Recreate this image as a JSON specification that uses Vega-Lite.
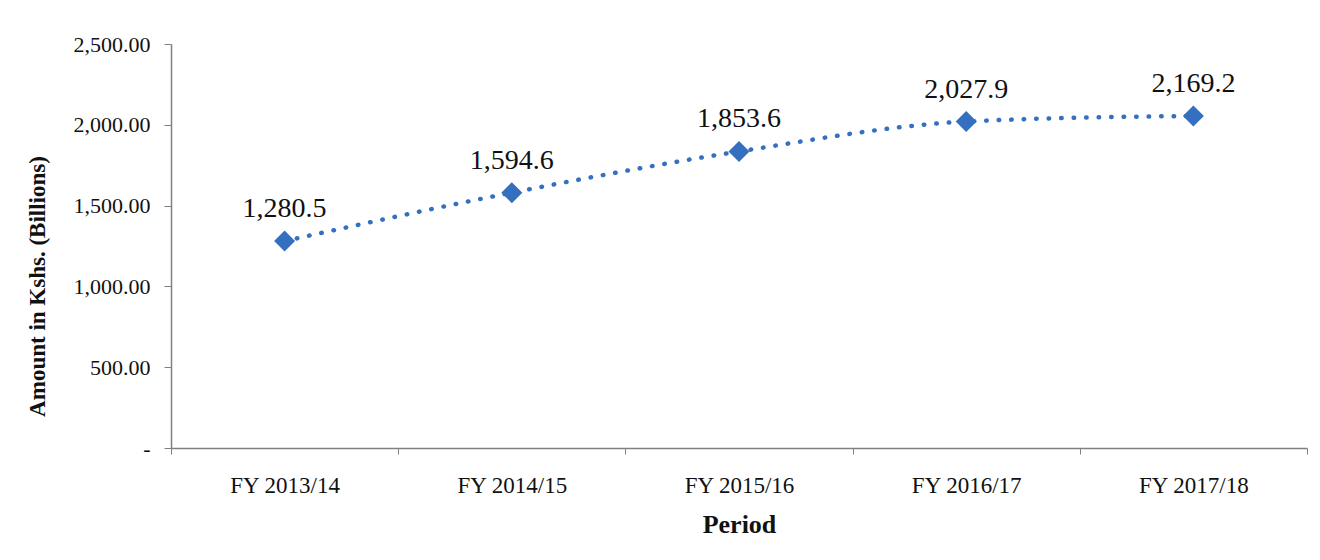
{
  "$schema": "https://vega.github.io/schema/vega-lite/v6.json",
  "width": 1136,
  "height": 404,
  "autosize": {"type": "none"},
  "padding": {"left": 171, "top": 44, "right": 13, "bottom": 112},
  "background": "white",
  "config": {
    "view": {"stroke": null},
    "font": "Liberation Serif"
  },
  "data": {
    "values": [
      {"period": "FY 2013/14", "amount": 1280.5, "label": "1,280.5"},
      {"period": "FY 2014/15", "amount": 1580, "label": "1,594.6"},
      {"period": "FY 2015/16", "amount": 1835, "label": "1,853.6"},
      {"period": "FY 2016/17", "amount": 2020, "label": "2,027.9"},
      {"period": "FY 2017/18", "amount": 2055, "label": "2,169.2"}
    ]
  },
  "encoding": {
    "x": {
      "field": "period",
      "type": "nominal",
      "sort": null,
      "title": "Period",
      "axis": {
        "labelAngle": 0,
        "labelFont": "Liberation Serif",
        "labelFontSize": 23,
        "labelColor": "#111",
        "labelPadding": 20,
        "tickBand": "extent",
        "tickSize": 6,
        "tickColor": "#808080",
        "domainColor": "#808080",
        "domainWidth": 1.5,
        "titleFont": "Liberation Serif",
        "titleFontSize": 26,
        "titleFontWeight": "bold",
        "titleColor": "#111",
        "titlePadding": 14
      }
    },
    "y": {
      "field": "amount",
      "type": "quantitative",
      "title": "Amount in Kshs. (Billions)",
      "scale": {"domain": [0, 2500], "nice": false},
      "axis": {
        "values": [0, 500, 1000, 1500, 2000, 2500],
        "labelExpr": "datum.value == 0 ? '-' : format(datum.value, ',.2f')",
        "labelFont": "Liberation Serif",
        "labelFontSize": 22,
        "labelColor": "#111",
        "labelPadding": 14,
        "grid": false,
        "tickSize": 7,
        "tickColor": "#808080",
        "domainColor": "#808080",
        "domainWidth": 1.5,
        "titleFont": "Liberation Serif",
        "titleFontSize": 23,
        "titleFontWeight": "bold",
        "titleColor": "#111",
        "titlePadding": 24,
        "titleY": 242
      }
    }
  },
  "layer": [
    {
      "mark": {
        "type": "line",
        "interpolate": "monotone",
        "color": "#3570c0",
        "strokeWidth": 4.5,
        "strokeDash": [0.5, 12],
        "strokeCap": "round"
      }
    },
    {
      "mark": {
        "type": "point",
        "shape": "diamond",
        "filled": true,
        "size": 440,
        "color": "#3570c0",
        "opacity": 1
      }
    },
    {
      "mark": {
        "type": "text",
        "font": "Liberation Serif",
        "fontSize": 28,
        "color": "#111",
        "baseline": "bottom",
        "dy": -18
      },
      "encoding": {"text": {"field": "label"}}
    }
  ]
}
